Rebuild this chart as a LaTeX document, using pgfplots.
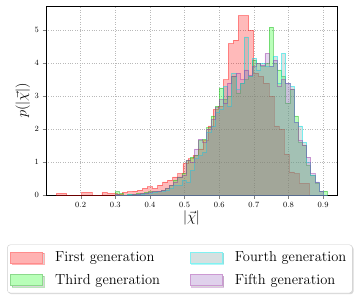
\documentclass[border=0pt]{standalone}
\usepackage{pgfplots}
\pgfplotsset{compat=1.18}
\usepackage{pgfplotstable}
\usetikzlibrary{shadows}

\definecolor{cFirst}{rgb}{1,0,0}
\definecolor{cThird}{rgb}{0,1,0}
\definecolor{cThirdE}{rgb}{0.1,0.7,0.1}
\definecolor{cFourth}{rgb}{0.45,0.6,0.6}
\definecolor{cFourthE}{rgb}{0,0.9,0.9}
\definecolor{cFifth}{rgb}{0.6,0.4,0.75}
\definecolor{cFifthE}{rgb}{0.6,0.2,0.65}

\pgfplotstableread{
x y
0.1300 0.05
0.1446 0.05
0.1592 0.00
0.1738 0.00
0.1884 0.00
0.2030 0.08
0.2176 0.08
0.2322 0.00
0.2468 0.00
0.2614 0.08
0.2760 0.05
0.2906 0.05
0.3052 0.03
0.3198 0.08
0.3344 0.10
0.3490 0.12
0.3636 0.15
0.3782 0.20
0.3928 0.25
0.4074 0.20
0.4220 0.30
0.4366 0.40
0.4512 0.45
0.4658 0.55
0.4804 0.65
0.4950 0.95
0.5096 1.10
0.5242 1.20
0.5388 1.40
0.5534 1.65
0.5680 2.10
0.5826 2.60
0.5972 2.70
0.6118 3.50
0.6264 4.60
0.6410 4.70
0.6556 5.45
0.6702 5.45
0.6848 5.00
0.6994 3.70
0.7140 3.60
0.7286 3.40
0.7432 3.00
0.7578 2.10
0.7724 2.00
0.7870 1.25
0.8016 0.70
0.8162 0.65
0.8308 0.35
0.8454 0.35
0.8600 0.35
}\redtab

\pgfplotstableread{
x G C P
0.300 0.10 0.00 0.02
0.312 0.05 0.00 0.00
0.324 0.00 0.00 0.00
0.336 0.02 0.02 0.00
0.348 0.03 0.00 0.02
0.360 0.05 0.02 0.03
0.372 0.05 0.03 0.05
0.384 0.08 0.05 0.05
0.396 0.10 0.05 0.08
0.408 0.10 0.08 0.10
0.420 0.12 0.10 0.12
0.432 0.15 0.10 0.15
0.444 0.20 0.15 0.20
0.456 0.30 0.20 0.30
0.468 0.45 0.30 0.40
0.480 0.55 0.30 0.55
0.492 0.65 0.45 0.60
0.504 1.05 0.40 1.05
0.516 1.15 0.75 1.00
0.528 1.20 1.10 1.40
0.540 1.65 1.20 1.70
0.552 1.70 1.30 1.60
0.564 2.05 1.90 2.00
0.576 2.40 2.10 2.30
0.588 2.70 2.50 2.65
0.600 3.25 2.60 2.90
0.612 2.90 3.30 2.80
0.624 3.00 2.70 3.40
0.636 3.60 3.70 3.60
0.648 3.10 3.20 3.70
0.660 3.40 3.40 3.50
0.672 3.50 4.80 3.80
0.684 3.60 3.60 3.65
0.696 4.10 4.15 3.90
0.708 4.00 3.80 4.00
0.720 3.90 4.00 3.95
0.732 4.00 3.90 4.30
0.744 5.10 3.90 3.90
0.756 4.00 4.20 4.10
0.768 3.80 3.40 3.30
0.780 3.60 4.30 3.50
0.792 2.80 3.40 3.40
0.804 3.20 3.30 3.20
0.816 2.40 2.20 2.20
0.828 1.60 2.10 1.65
0.840 1.50 1.60 1.50
0.852 0.90 1.00 1.15
0.864 0.60 0.60 0.65
0.876 0.35 0.40 0.40
0.888 0.12 0.10 0.12
0.900 0.12 0.00 0.00
0.912 0.12 0.00 0.00
}\gcptab

\begin{document}
\begin{tikzpicture}
\begin{axis}[
  name=ax,
  scale only axis,
  width=291pt, height=189pt,
  xmin=0.1, xmax=0.94, ymin=0, ymax=5.74,
  xtick={0.2,0.3,0.4,0.5,0.6,0.7,0.8,0.9},
  ytick={0,1,2,3,4,5},
  xticklabel style={/pgf/number format/fixed, /pgf/number format/precision=1, /pgf/number format/fixed zerofill},
  grid=major,
  grid style={dotted, gray!55, line width=0.6pt},
  axis line style={line width=0.8pt},
  tick align=outside, tick pos=left,
  major tick length=3.5pt,
  ticklabel style={font=\fontsize{8.5}{10}\selectfont},
  xlabel={$|\vec{\chi}|$},
  ylabel={$p(|\vec{\chi}|)$},
  label style={font=\fontsize{14}{16}\selectfont},
  xlabel style={yshift=3pt},
  ylabel style={yshift=-2pt},
  legend columns=2,
  transpose legend,
  legend cell align=left,
  legend style={at={(0.46,-0.262)}, anchor=north,
    font=\fontsize{14.5}{16}\selectfont,
    draw=gray!40, fill=white, rounded corners=3pt,
    drop shadow={shadow xshift=1.2pt, shadow yshift=-1.2pt, opacity=0.3},
    inner xsep=3pt, inner ysep=5pt, row sep=7pt,
    /tikz/every odd column/.append style={column sep=9pt},
    /tikz/every even column/.append style={column sep=27pt},
    nodes={inner xsep=3pt}},
]
\addplot[const plot, draw=cFirst, draw opacity=0.4, fill=cFirst, fill opacity=0.27, line width=0.6pt,
  legend image code/.code={\draw[sharp corners, draw=cFirst!45, fill=cFirst!30, line width=0.8pt, fill opacity=1, draw opacity=1] (0pt,-5.5pt) rectangle (32pt,5.5pt);}] table[x=x,y=y]{\redtab} \closedcycle;
\addlegendentry{First generation}
\addplot[const plot, draw=cThirdE, draw opacity=0.45, fill=cThird, fill opacity=0.27, line width=0.6pt,
  legend image code/.code={\draw[sharp corners, draw=cThirdE!50, fill=cThird!28, line width=0.8pt, fill opacity=1, draw opacity=1] (0pt,-5.5pt) rectangle (32pt,5.5pt);}] table[x=x,y=G]{\gcptab} \closedcycle;
\addlegendentry{Third generation}
\addplot[const plot, draw=cFourthE, draw opacity=0.5, fill=cFourth, fill opacity=0.27, line width=0.6pt,
  legend image code/.code={\draw[sharp corners, draw=cFourthE!50, fill=cFourth!30, line width=0.8pt, fill opacity=1, draw opacity=1] (0pt,-5.5pt) rectangle (32pt,5.5pt);}] table[x=x,y=C]{\gcptab} \closedcycle;
\addlegendentry{Fourth generation}
\addplot[const plot, draw=cFifthE, draw opacity=0.45, fill=cFifth, fill opacity=0.27, line width=0.6pt,
  legend image code/.code={\draw[sharp corners, draw=cFifthE!50, fill=cFifth!30, line width=0.8pt, fill opacity=1, draw opacity=1] (0pt,-5.5pt) rectangle (32pt,5.5pt);}] table[x=x,y=P]{\gcptab} \closedcycle;
\addlegendentry{Fifth generation}
\end{axis}
\path ([xshift=-46pt,yshift=-103pt]ax.south west) rectangle ([xshift=24pt,yshift=6pt]ax.north east);
\end{tikzpicture}
\end{document}
